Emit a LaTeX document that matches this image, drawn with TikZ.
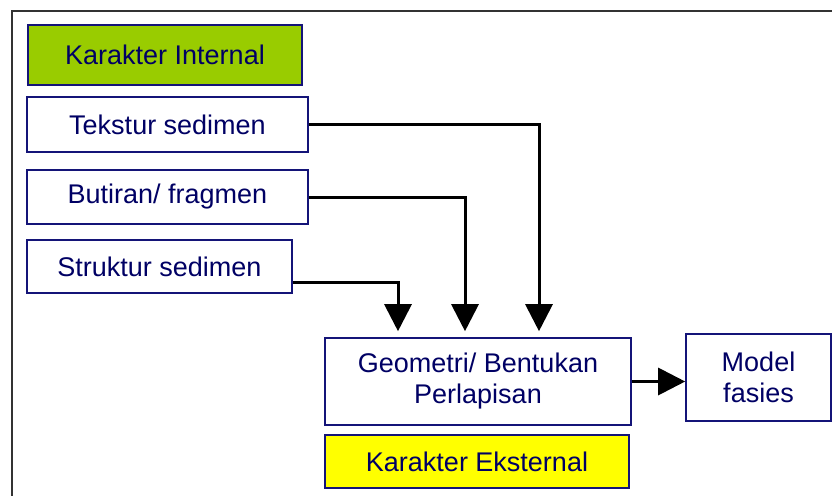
\documentclass[tikz,border=0pt]{standalone}
\usepackage{fontspec}
\setmainfont{Liberation Sans}
\usepackage{tikz}
\usetikzlibrary{arrows.meta,positioning}
\usepackage{xcolor}
\definecolor{boxline}{RGB}{20,20,120}
\definecolor{boxtext}{RGB}{0,0,100}
\definecolor{kintfill}{RGB}{153,204,0}
\definecolor{keksfill}{RGB}{255,255,0}

\begin{document}
\begin{tikzpicture}[x=1pt,y=-1pt,
  box/.style={draw=boxline,line width=1.6pt,fill=white,text=boxtext,align=center,
    inner sep=0pt,font=\fontsize{27}{31}\selectfont},
  flow/.style={draw=black,line width=3pt,-{Triangle[length=27pt,width=27pt]}}]
\useasboundingbox (0,0) rectangle (832,495);
\fill[white] (0,0) rectangle (832,495);
% Drawing frame
\draw[color=black!80,line width=2.2pt] (12,11) rectangle (845,510);
% Done with frame; drawing boxes
\node[box,fill=kintfill,minimum width=274pt,minimum height=60pt] (kint) at (165,55) {Karakter Internal};
\node[box,minimum width=281pt,minimum height=55pt] (tekstur) at (167.5,124.5) {Tekstur sedimen};
\node[box,minimum width=281pt,minimum height=54pt] (butiran) at (167.5,197) {Butiran/ fragmen};
\node[box,minimum width=265pt,minimum height=53pt] (struktur) at (159.5,266.5) {Struktur sedimen};
\node[box,minimum width=306pt,minimum height=87pt] (geom) at (478,381.5) {Geometri/ Bentukan\\Perlapisan};
\node[box,fill=keksfill,minimum width=304pt,minimum height=53pt] (keks) at (477,461.5) {Karakter Eksternal};
\node[box,minimum width=145pt,minimum height=87pt] (model) at (758.5,377.5) {Model\\fasies};
% Done with boxes; drawing connectors
\coordinate (sa) at (398,282);
\coordinate (ba) at (465,197);
\coordinate (ta) at (539,124.5);
\draw[flow,shorten >=6pt] (struktur.east |- sa) -| (geom.north -| sa);
\draw[flow,shorten >=6pt] (butiran.east) -| (geom.north -| ba);
\draw[flow,shorten >=6pt] (tekstur.east) -| (geom.north -| ta);
\draw[flow] (geom.east |- model.west) ++(0,4) coordinate (ga) (geom.east |- ga) -- (model.west |- ga);
% Done with connectors
\end{tikzpicture}
\end{document}
